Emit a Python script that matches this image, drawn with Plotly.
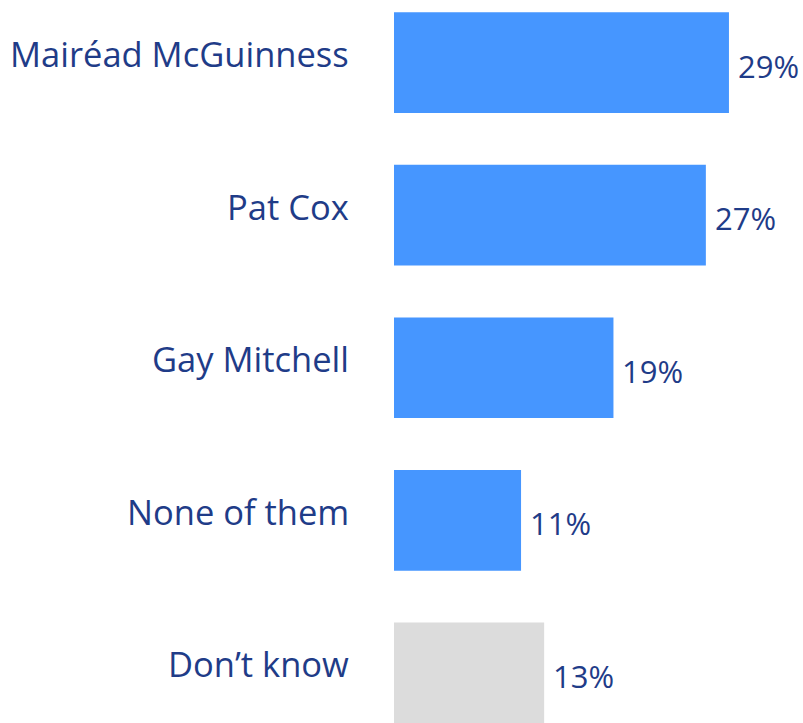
import plotly.graph_objects as go

categories = ["Mairéad McGuinness", "Pat Cox", "Gay Mitchell", "None of them", "Don’t know"]
values = [29, 27, 19, 11, 13]
colors = ["#4696FF", "#4696FF", "#4696FF", "#4696FF", "#DCDCDC"]

TEXT_COLOR = "#1F3C88"
FONT = "Open Sans"

fig = go.Figure(
    go.Bar(
        x=values,
        y=categories,
        orientation="h",
        marker=dict(color=colors, line=dict(width=0)),
        width=0.66,
        hoverinfo="skip",
    )
)

for cat, val in zip(categories, values):
    fig.add_annotation(
        x=0, y=cat, xref="x", yref="y",
        text=cat, showarrow=False,
        xanchor="right", yanchor="middle",
        xshift=-43, yshift=9,
        font=dict(family=FONT, size=34.5, color=TEXT_COLOR),
    )
    fig.add_annotation(
        x=val, y=cat, xref="x", yref="y",
        text=f"{val}%", showarrow=False,
        xanchor="left", yanchor="middle",
        xshift=7, yshift=-3,
        font=dict(family=FONT, size=31, color=TEXT_COLOR),
    )

fig.update_layout(
    width=803,
    height=723,
    margin=dict(l=394, r=0, t=0, b=0),
    paper_bgcolor="white",
    plot_bgcolor="white",
    showlegend=False,
    xaxis=dict(range=[0, 35.41], visible=False, fixedrange=True),
    yaxis=dict(
        type="category",
        categoryorder="array",
        categoryarray=categories,
        range=[4.328, -0.41],
        showgrid=False,
        zeroline=False,
        showline=False,
        showticklabels=False,
        ticks="",
        fixedrange=True,
    ),
)

fig.write_html(
    "out.html",
    config={"displayModeBar": False, "staticPlot": True},
    post_script="document.body.style.margin='0';document.body.style.overflow='hidden';",
)
